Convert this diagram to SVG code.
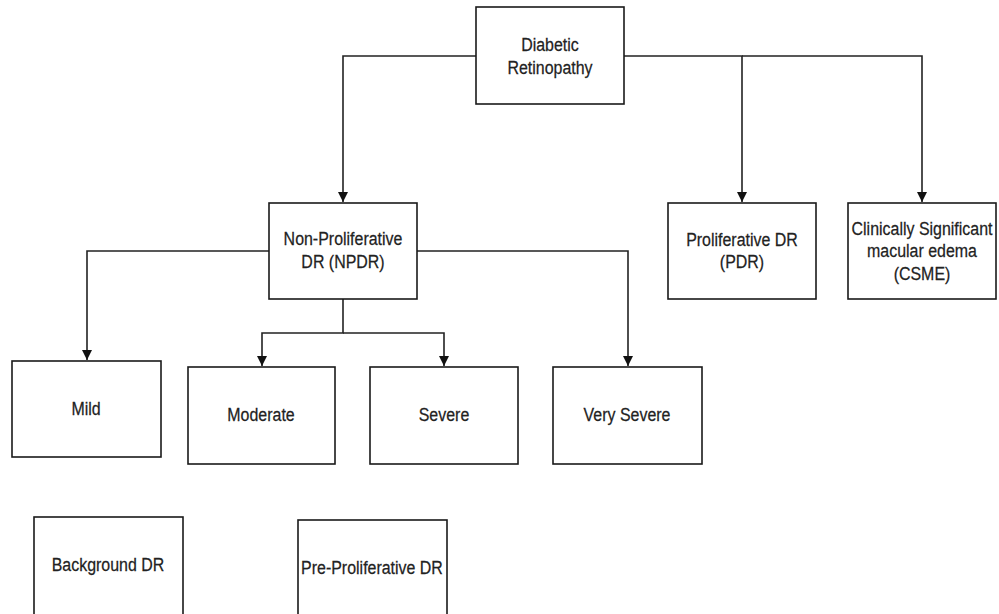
<svg xmlns="http://www.w3.org/2000/svg" width="999" height="614" viewBox="0 0 999 614">
  <style>
    .box { fill: #ffffff; stroke: #1a1a1a; stroke-width: 1.6; }
    .lbl { font-family: "Liberation Sans", Arial, sans-serif; font-size: 19px; fill: #222222; stroke: #222222; stroke-width: 0.25; text-anchor: middle; }
    .edge { fill: none; stroke: #222222; stroke-width: 1.6; }
  </style>
  <defs>
    <marker id="arrow" viewBox="0 0 10 10" refX="10" refY="5" markerWidth="10" markerHeight="10" markerUnits="userSpaceOnUse" orient="auto">
      <path d="M0,0 L10,5 L0,10 Z" fill="#111111"/>
    </marker>
  </defs>
  <rect width="999" height="614" fill="#ffffff"/>

  <g id="connectors">
    <path class="edge" d="M476,56 H343 V202" marker-end="url(#arrow)"/>
    <path class="edge" d="M624,56 H742 V202" marker-end="url(#arrow)"/>
    <path class="edge" d="M742,56 H922 V202" marker-end="url(#arrow)"/>
    <path class="edge" d="M269,251 H87 V360" marker-end="url(#arrow)"/>
    <path class="edge" d="M417,251 H628 V366" marker-end="url(#arrow)"/>
    <path class="edge" d="M343,299 V333 H262 V366" marker-end="url(#arrow)"/>
    <path class="edge" d="M343,333 H444 V366" marker-end="url(#arrow)"/>
  </g>

  <!-- labels use a horizontally condensed sans (scale 0.84 on x) -->
  <g id="diabetic-retinopathy">
    <rect class="box" x="476" y="7" width="148" height="97"/>
    <g transform="translate(550,0) scale(0.84,1)">
      <text class="lbl" x="0" y="51">Diabetic</text>
      <text class="lbl" x="0" y="74">Retinopathy</text>
    </g>
  </g>

  <g id="npdr">
    <rect class="box" x="269" y="203" width="148" height="96"/>
    <g transform="translate(343,0) scale(0.84,1)">
      <text class="lbl" x="0" y="245">Non-Proliferative</text>
      <text class="lbl" x="0" y="268">DR (NPDR)</text>
    </g>
  </g>

  <g id="pdr">
    <rect class="box" x="668" y="203" width="148" height="96"/>
    <g transform="translate(742,0) scale(0.84,1)">
      <text class="lbl" x="0" y="246">Proliferative DR</text>
      <text class="lbl" x="0" y="268">(PDR)</text>
    </g>
  </g>

  <g id="csme">
    <rect class="box" x="848" y="203" width="148" height="96"/>
    <g transform="translate(922,0) scale(0.84,1)">
      <text class="lbl" x="0" y="235">Clinically Significant</text>
      <text class="lbl" x="0" y="257">macular edema</text>
      <text class="lbl" x="0" y="280">(CSME)</text>
    </g>
  </g>

  <g id="mild">
    <rect class="box" x="12" y="361" width="149" height="96"/>
    <text class="lbl" transform="translate(86,0) scale(0.84,1)" x="0" y="415">Mild</text>
  </g>

  <g id="moderate">
    <rect class="box" x="188" y="367" width="147" height="97"/>
    <text class="lbl" transform="translate(261,0) scale(0.84,1)" x="0" y="421">Moderate</text>
  </g>

  <g id="severe">
    <rect class="box" x="370" y="367" width="148" height="97"/>
    <text class="lbl" transform="translate(444,0) scale(0.84,1)" x="0" y="421">Severe</text>
  </g>

  <g id="very-severe">
    <rect class="box" x="553" y="367" width="149" height="97"/>
    <text class="lbl" transform="translate(627,0) scale(0.84,1)" x="0" y="421">Very Severe</text>
  </g>

  <g id="background-dr">
    <rect class="box" x="34" y="517" width="149" height="110"/>
    <text class="lbl" transform="translate(108,0) scale(0.84,1)" x="0" y="571">Background DR</text>
  </g>

  <g id="pre-proliferative-dr">
    <rect class="box" x="298" y="520" width="149" height="110"/>
    <text class="lbl" transform="translate(372,0) scale(0.84,1)" x="0" y="574">Pre-Proliferative DR</text>
  </g>
</svg>
